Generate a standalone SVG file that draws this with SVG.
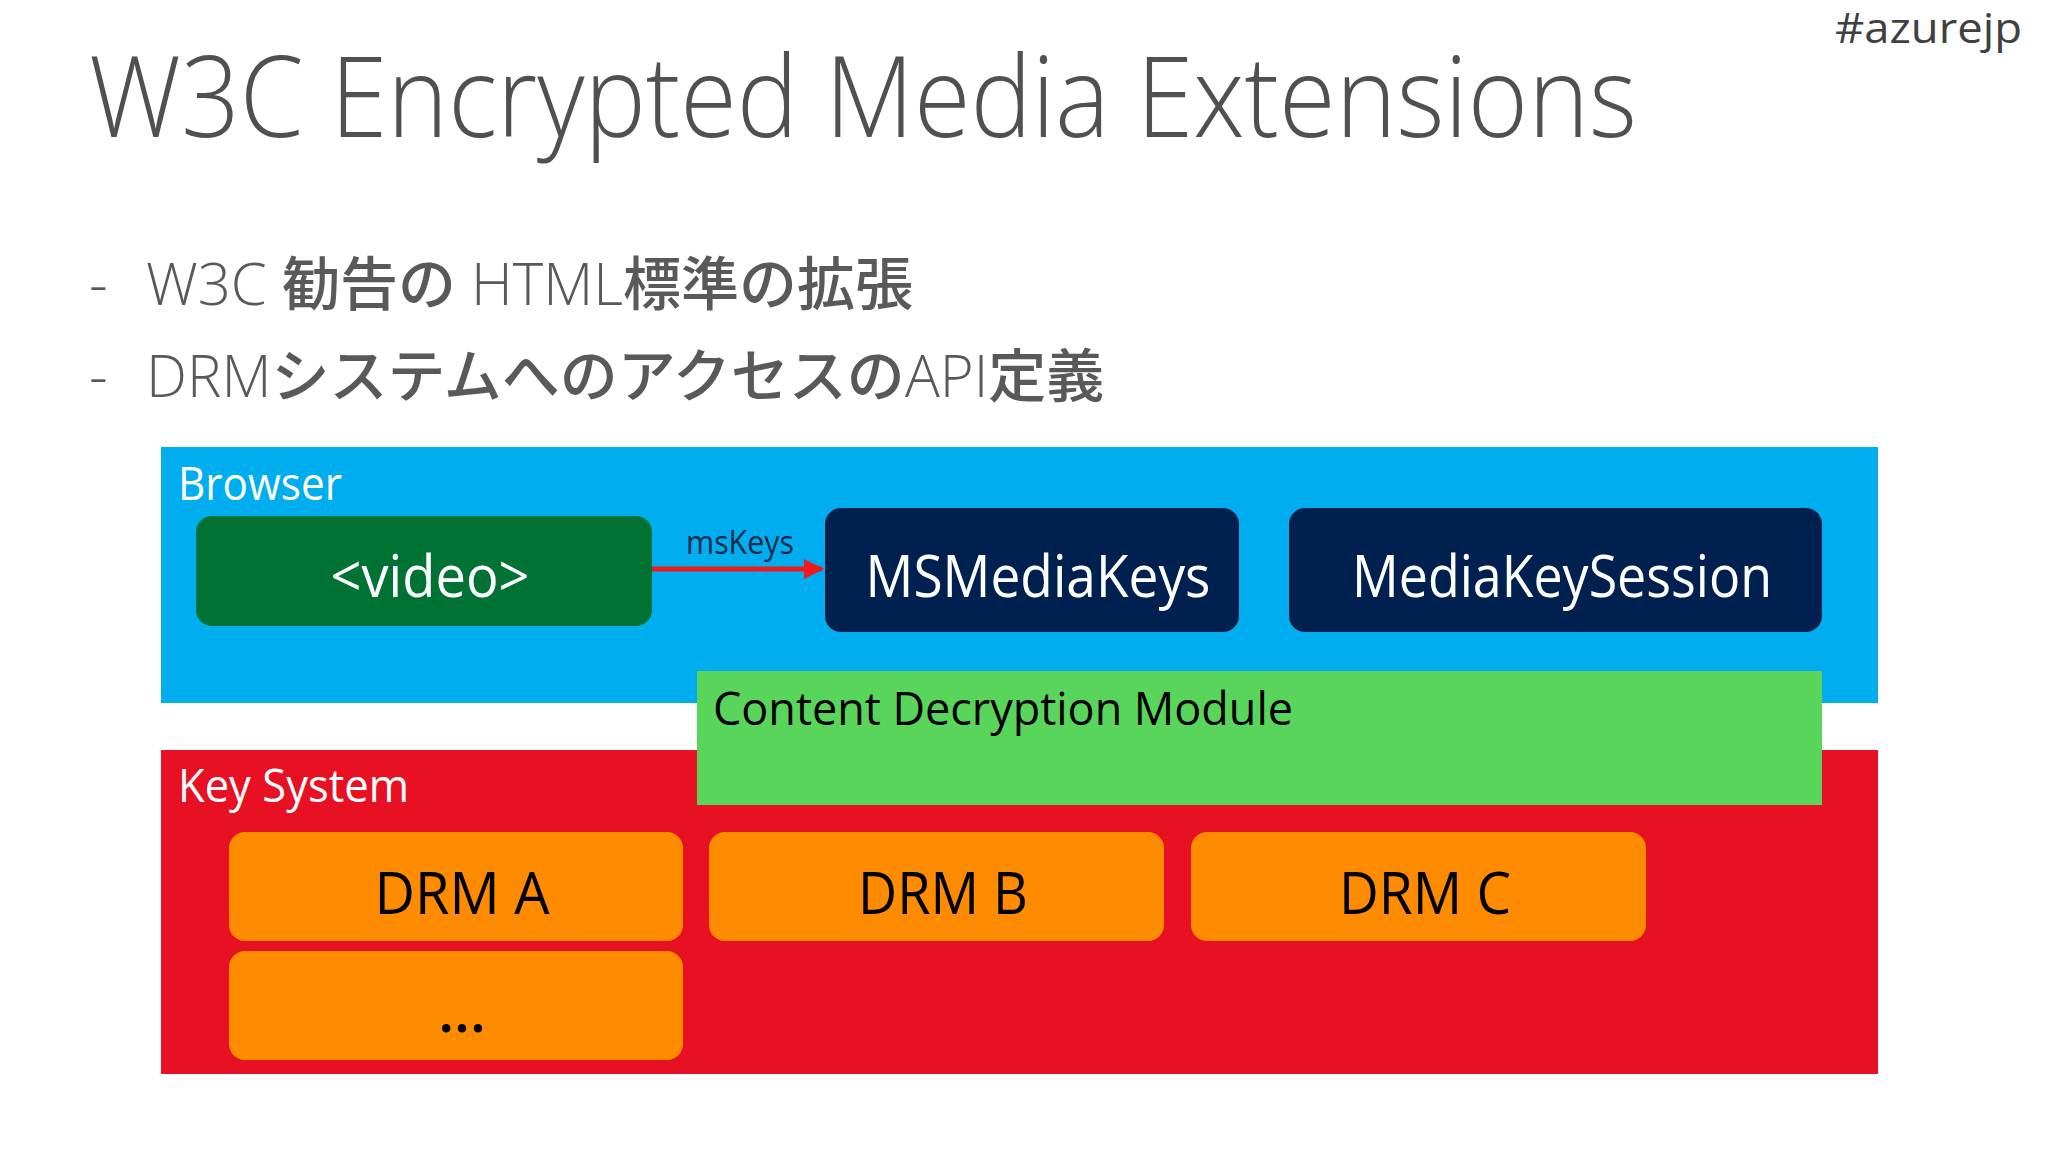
<svg xmlns="http://www.w3.org/2000/svg" width="2048" height="1152" viewBox="0 0 2048 1152">
<style>
.lat{font-family:"Open Sans","Noto Sans",sans-serif;}
.title{font-size:112px;font-weight:300;fill:#505050;}
.tag{font-size:42px;font-weight:400;fill:#404040;}
.bul{font-size:58px;fill:#595959;}
.lt{font-family:"Open Sans","Noto Sans",sans-serif;font-weight:300;}
.cjk{font-family:"Noto Sans CJK JP",sans-serif;font-weight:500;}
.grp{font-size:46px;fill:#ffffff;}
.box{font-size:58px;fill:#ffffff;}
.drm{font-size:58px;fill:#000000;}
.cdm{font-size:46px;fill:#000000;}
</style>
<defs>
<marker id="ah" markerWidth="4" markerHeight="4" refX="3.6" refY="2" orient="auto" markerUnits="strokeWidth">
<path d="M0,0 L4,2 L0,4 Z" fill="#f01a1a"/>
</marker>
</defs>
<rect width="2048" height="1152" fill="#ffffff"/>
<text class="lat title" x="89" y="137" textLength="1548" lengthAdjust="spacingAndGlyphs">W3C Encrypted Media Extensions</text>
<text class="lat tag" x="1835" y="43" textLength="187" lengthAdjust="spacingAndGlyphs">#azurejp</text>
<g class="bul">
<text class="lt" x="89" y="305">-</text>
<text x="146" y="305"><tspan class="lt">W3C </tspan><tspan class="cjk">勧告の</tspan><tspan class="lt"> HTML</tspan><tspan class="cjk">標準の拡張</tspan></text>
<text class="lt" x="89" y="397">-</text>
<text x="146" y="397"><tspan class="lt">DRM</tspan><tspan class="cjk">システムへのアクセスの</tspan><tspan class="lt">API</tspan><tspan class="cjk">定義</tspan></text>
</g>
<g id="browser">
<rect x="161" y="447" width="1717" height="256" fill="#00adef"/>
<text class="lat grp" x="178" y="500" textLength="164" lengthAdjust="spacingAndGlyphs">Browser</text>
</g>
<g id="keysystem">
<rect x="161" y="750" width="1717" height="324" fill="#e81123"/>
<text class="lat grp" x="178" y="802" textLength="231" lengthAdjust="spacingAndGlyphs">Key System</text>
</g>
<g id="video">
<rect x="196" y="516" width="456" height="110" rx="16" fill="#007233"/>
<text class="lat box" x="430" y="597" text-anchor="middle" textLength="199" lengthAdjust="spacingAndGlyphs">&lt;video&gt;</text>
</g>
<g id="msmediakeys">
<rect x="825" y="508" width="414" height="124" rx="16" fill="#002050"/>
<text class="lat box" x="1038" y="597" text-anchor="middle" textLength="345" lengthAdjust="spacingAndGlyphs">MSMediaKeys</text>
</g>
<g id="mediakeysession">
<rect x="1289" y="508" width="533" height="124" rx="16" fill="#002050"/>
<text class="lat box" x="1562" y="597" text-anchor="middle" textLength="420" lengthAdjust="spacingAndGlyphs">MediaKeySession</text>
</g>
<g id="cdm">
<rect x="697" y="671" width="1125" height="134" fill="#58d55a"/>
<text class="lat cdm" x="713" y="725" textLength="580" lengthAdjust="spacingAndGlyphs">Content Decryption Module</text>
</g>
<g id="drma">
<rect x="229" y="832" width="454" height="109" rx="16" fill="#ff8c00"/>
<text class="lat drm" x="462" y="914" text-anchor="middle" textLength="175" lengthAdjust="spacingAndGlyphs">DRM A</text>
</g>
<g id="drmb">
<rect x="709" y="832" width="455" height="109" rx="16" fill="#ff8c00"/>
<text class="lat drm" x="943" y="914" text-anchor="middle" textLength="170" lengthAdjust="spacingAndGlyphs">DRM B</text>
</g>
<g id="drmc">
<rect x="1191" y="832" width="455" height="109" rx="16" fill="#ff8c00"/>
<text class="lat drm" x="1425" y="914" text-anchor="middle" textLength="172" lengthAdjust="spacingAndGlyphs">DRM C</text>
</g>
<g id="more">
<rect x="229" y="951" width="454" height="109" rx="16" fill="#ff8c00"/>
<text class="lat drm" x="462" y="1032" text-anchor="middle" font-size="50" font-weight="600">...</text>
</g>
<g id="connectors">
<line x1="652" y1="569" x2="822" y2="569" stroke="#f01a1a" stroke-width="5" marker-end="url(#ah)"/>
<text class="lat" x="740" y="554" text-anchor="middle" font-size="32" fill="#1a2a4a" textLength="108" lengthAdjust="spacingAndGlyphs">msKeys</text>
</g>
</svg>
